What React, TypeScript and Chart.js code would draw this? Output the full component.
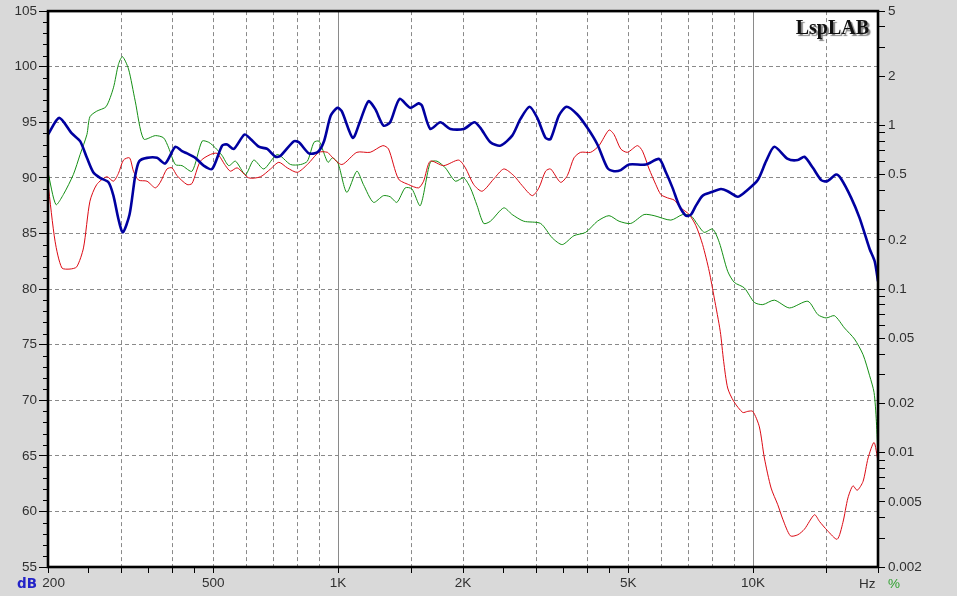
import React, { useEffect, useRef } from 'react';
import { Chart, registerables } from 'chart.js';

Chart.register(...registerables);

// ---------- data (frequency in Hz, level in dB) ----------
const blueFreq = [
  200, 212.8, 228.3, 239, 248.2, 257.1, 267, 279.7, 287.5, 295.6, 302.9, 314.4, 324.5, 331.8,
  346.4, 366.2, 383.4, 405.4, 420.7, 432.6, 453.1, 474.4, 497.1, 525.6, 540.4, 560.7, 594.9,
  615.1, 644.2, 675.1, 706.9, 726.9, 782.7, 804.8, 850.8, 891.6, 925, 960.2, 996.5, 1020.7,
  1085.2, 1130, 1183.5, 1228.4, 1286.4, 1335.1, 1406.3, 1492.3, 1563, 1592.8, 1668, 1763.6,
  1864.5, 2007.5, 2130.5, 2202.8, 2328.5, 2461.9, 2627.6, 2751.4, 2893, 3020, 3162, 3251.5,
  3404.7, 3553.7, 3772.1, 3987.5, 4216, 4456, 4624, 4799, 5025, 5515, 5938, 6165, 6397, 6637,
  6889, 7083, 7283, 7558, 7916, 8368, 8686, 9185, 9618, 10264, 10749, 11255, 12126, 12818,
  13298, 13934, 14594, 15086, 15859, 16306, 17238, 18054, 19094, 19634, 20000,
];
const blueDb = [
  93.9, 95.4, 94.0, 93.3, 91.8, 90.5, 90.0, 89.6, 88.4, 86.3, 85.1, 86.7, 90.2, 91.5,
  91.8, 91.8, 91.3, 92.8, 92.4, 92.2, 91.8, 91.1, 90.8, 92.9, 93.0, 92.6, 93.9,
  93.5, 92.8, 92.6, 91.9, 92.0, 93.3, 93.2, 92.2, 92.3, 93.3, 95.6, 96.3, 96.0,
  93.6, 95.1, 96.9, 96.2, 94.7, 95.0, 97.1, 96.3, 96.7, 96.5, 94.4, 95.0,
  94.4, 94.4, 95.0, 94.5, 93.2, 92.9, 93.8, 95.3, 96.4, 95.4, 93.6, 93.5,
  95.6, 96.4, 95.7, 94.5, 93.0, 90.9, 90.6, 90.7, 91.2, 91.2, 91.7, 90.5, 89.1, 87.5,
  86.6, 86.7, 87.5, 88.4, 88.7, 89.0, 88.8, 88.3, 88.8, 89.8, 91.5, 92.8, 91.7, 91.6,
  91.9, 90.9, 89.8, 89.7, 90.3, 89.9, 88.2, 86.4, 83.6, 82.5, 80.7,
];

const redFreq = [
  200, 208, 216, 226, 234.6, 243.5, 252.4, 262.1, 277.2, 287.5, 295.6, 304, 314.4, 321.4,
  330.5, 346.4, 362.8, 372.9, 387, 398, 409.2, 432.6, 444.8, 465.8, 492.4, 511.1, 535.3,
  550.5, 571.4, 609.3, 650.3, 687.5, 720, 754.5, 797.6, 843.4, 899.6, 942.6, 960, 1021,
  1110, 1195, 1282, 1323, 1398, 1478, 1563, 1607, 1668, 1796, 1952, 2027, 2122, 2224, 2372,
  2508, 2651, 2778, 2937, 3047, 3162, 3252, 3437, 3568, 3702, 3842, 4062, 4253, 4496, 4624,
  4799, 4981, 5266, 5415, 5617, 5830, 5995, 6223, 6455, 6700, 7016, 7283, 7558, 7840, 8062,
  8335, 8494, 8686, 8982, 9443, 9710, 9984, 10356, 10648, 11052, 11469, 11793, 12303, 12818,
  13298, 14060, 14454, 15086, 15947, 16461, 16923, 17401, 17823, 18408, 18929, 19567, 20000,
];
const redDb = [
  89.5, 84.3, 81.9, 81.8, 82.0, 83.7, 87.9, 89.4, 90.1, 89.7, 90.4, 91.6, 91.8, 90.6,
  89.8, 89.7, 89.1, 89.6, 90.8, 90.9, 90.2, 89.4, 89.5, 91.5, 92.1, 92.2, 91.1,
  90.6, 90.9, 90.0, 90.1, 90.8, 91.4, 90.9, 90.5, 91.2, 92.3, 92.3, 92.0, 91.2,
  92.3, 92.3, 92.9, 92.6, 89.9, 89.4, 89.1, 89.7, 91.5, 91.1, 91.6, 90.9, 89.4, 88.8, 89.9,
  90.8, 90.2, 89.3, 88.4, 89.1, 90.6, 90.8, 89.6, 90.2, 91.8, 92.3, 92.3, 92.9, 94.3, 93.9,
  92.6, 92.3, 92.9, 92.4, 90.8, 89.4, 88.5, 88.2, 88.0, 87.3, 86.7, 85.7, 84.0, 81.6, 79.2,
  76.2, 73.5, 71.1, 69.9, 68.9, 69.0, 69.0, 67.6, 64.8, 62.1, 60.6, 59.3, 57.8, 57.9,
  58.4, 59.7, 59.1, 58.3, 57.5, 59.0, 61.2, 62.3, 61.9, 62.7, 64.8, 66.2, 64.5,
];

const greenFreq = [
  200, 209, 217.8, 230.2, 239, 248.2, 252.4, 262.1, 276, 287.5, 295.6, 302.3, 312.6, 324.5,
  339.9, 362.8, 379.8, 390.6, 405.4, 420.7, 444.8, 470.2, 487.8, 506.3, 525.6, 545.3, 566,
  598.2, 626.5, 662.3, 713.6, 768.4, 812.5, 843.4, 874.9, 899.6, 916.7, 945.6, 969.3, 1000,
  1049.5, 1109.7, 1151, 1216.9, 1286.4, 1335.1, 1386, 1451.4, 1506.5, 1577.9, 1668, 1731.4,
  1813.3, 1916.9, 2007.5, 2083.4, 2162.7, 2243.7, 2328.5, 2507.6, 2627.6, 2802.5, 3075.5,
  3282.3, 3469.6, 3701.5, 3950, 4216, 4496, 4754, 5073, 5463, 5775, 6338, 6764, 7083, 7352,
  7626, 7990, 8289, 8686, 9011, 9528, 10072, 10553, 11255, 12235, 13552, 14328, 15003, 15710,
  16606, 17558, 18408, 19094, 19567, 19820, 20000,
];
const greenDb = [
  90.5, 87.6, 88.5, 90.3, 92.1, 93.9, 95.5, 96.0, 96.4, 98.1, 100.2, 100.9, 99.8, 96.9,
  93.5, 93.8, 93.6, 92.7, 91.2, 91.1, 90.6, 93.3, 93.2, 92.7, 92.0, 91.1, 91.5,
  90.3, 91.6, 90.8, 92.1, 91.2, 91.2, 91.5, 93.2, 93.3, 92.6, 91.4, 91.8, 91.3,
  88.7, 90.6, 89.4, 87.8, 88.4, 88.3, 87.8, 89.1, 89.0, 87.5, 91.4, 91.5,
  90.9, 89.7, 90.0, 89.1, 87.5, 85.9, 86.1, 87.3, 86.7, 86.1, 85.9,
  84.6, 84.0, 84.8, 85.1, 86.1, 86.6, 86.1, 85.9, 86.7, 86.6, 86.2, 86.7, 86.6, 85.8,
  85.1, 85.4, 84.2, 81.6, 80.6, 80.1, 78.8, 78.6, 79.0, 78.3, 78.9, 77.7, 77.4, 77.6,
  76.5, 75.5, 74.1, 72.2, 70.7, 68.1, 64.8,
];

// ---------- axes ----------
const xMin = 200;
const xMax = 20000;
const xTickValues = [
  200, 250, 300, 350, 400, 450, 500, 600, 700, 800, 900, 1000, 1500, 2000, 2500, 3000, 3500,
  4000, 4500, 5000, 6000, 7000, 8000, 9000, 10000, 15000, 20000,
];
const xTickLabels: Record<number, string> = {
  200: '   200', 500: '500', 1000: '1K', 2000: '2K', 5000: '5K', 10000: '10K',
};
const xGridDashed = [300, 400, 500, 600, 700, 800, 900, 1500, 2000, 3000, 4000, 5000, 6000, 7000, 8000, 9000, 15000];
const xGridSolid = [1000, 10000];
const xNoTickMark = [600, 700, 800, 900, 6000, 7000, 8000, 9000];

const dbMin = 55;
const dbMax = 105;
const dbTicks = [55, 60, 65, 70, 75, 80, 85, 90, 95, 100, 105];
const dbMinorStep = 1;

const pctMin = 0.002;
const pctMax = 5;
const pctTicks = [
  0.002, 0.003, 0.004, 0.005, 0.006, 0.007, 0.008, 0.009,
  0.01, 0.02, 0.03, 0.04, 0.05, 0.06, 0.07, 0.08, 0.09,
  0.1, 0.2, 0.3, 0.4, 0.5, 0.6, 0.7, 0.8, 0.9,
  1, 2, 3, 4, 5,
];
const pctLabelled = [0.002, 0.005, 0.01, 0.02, 0.05, 0.1, 0.2, 0.5, 1, 2, 5];

const FONT = "'Liberation Sans', Arial, sans-serif";
const TEXT = '#303030';
const GRID = '#8a8a8a';
const CLEAR = 'rgba(0,0,0,0)';
const BG = '#d9d9d9';

const toPoints = (xs: number[], ys: number[]) => xs.map((x, i) => ({ x, y: ys[i] }));

const framePlugin = {
  id: 'lspFrame',
  beforeDraw(chart: any) {
    const { ctx, chartArea: ca, width, height } = chart;
    ctx.save();
    ctx.fillStyle = BG;
    ctx.fillRect(0, 0, width, height);
    ctx.fillStyle = '#ffffff';
    ctx.fillRect(ca.left, ca.top, ca.right - ca.left, ca.bottom - ca.top);
    ctx.restore();
  },
  afterDraw(chart: any) {
    const { ctx, chartArea: ca } = chart;
    const ys = chart.scales.y;
    ctx.save();
    // minor dB ticks
    ctx.strokeStyle = '#000';
    ctx.lineWidth = 1;
    ctx.beginPath();
    for (let v = dbMin + dbMinorStep; v < dbMax; v += dbMinorStep) {
      if (v % 5 === 0) continue;
      const py = Math.round(ys.getPixelForValue(v)) + 0.5;
      ctx.moveTo(ca.left - 5, py);
      ctx.lineTo(ca.left, py);
    }
    ctx.stroke();
    // frame
    ctx.lineWidth = 2.6;
    ctx.strokeStyle = '#000';
    ctx.strokeRect(ca.left, ca.top, ca.right - ca.left, ca.bottom - ca.top);
    // unit labels
    ctx.textBaseline = 'alphabetic';
    ctx.textAlign = 'left';
    ctx.font = "bold 13.5px 'DejaVu Sans', sans-serif";
    ctx.fillStyle = '#2323c8';
    ctx.fillText('dB', 17, ca.bottom + 21);
    ctx.font = `13.5px ${FONT}`;
    ctx.fillStyle = TEXT;
    ctx.fillText('Hz', ca.right - 19, ca.bottom + 21);
    ctx.fillStyle = '#2ea02e';
    ctx.fillText('%', ca.right + 10, ca.bottom + 21);
    // brand
    ctx.font = "bold 20px 'Liberation Serif', 'Times New Roman', serif";
    ctx.textAlign = 'right';
    ctx.shadowColor = 'rgba(90,90,90,0.75)';
    ctx.shadowOffsetX = 2;
    ctx.shadowOffsetY = 2;
    ctx.shadowBlur = 1;
    ctx.fillStyle = '#111';
    ctx.fillText('LspLAB', ca.right - 9, ca.top + 23);
    ctx.restore();
  },
};

export default function App() {
  const ref = useRef<HTMLCanvasElement>(null);

  useEffect(() => {
    document.body.style.margin = '0';
    const canvas = ref.current;
    if (!canvas) return;
    const tickFont = { family: FONT, size: 13.5 };
    const chart = new Chart(canvas, {
      type: 'line',
      data: {
        datasets: [
          {
            label: 'blue',
            data: toPoints(blueFreq, blueDb),
            borderColor: '#0000a0',
            borderWidth: 2.6,
            pointRadius: 0,
            tension: 0.25,
            yAxisID: 'y',
          },
          {
            label: 'red',
            data: toPoints(redFreq, redDb),
            borderColor: '#dc0a14',
            borderWidth: 1,
            pointRadius: 0,
            tension: 0.25,
            yAxisID: 'y',
          },
          {
            label: 'green',
            data: toPoints(greenFreq, greenDb),
            borderColor: '#159015',
            borderWidth: 1,
            pointRadius: 0,
            tension: 0.25,
            yAxisID: 'y',
          },
        ],
      },
      options: {
        responsive: false,
        animation: false,
        devicePixelRatio: 1,
        layout: { padding: { top: 11, left: 0, right: 0, bottom: 0 } },
        plugins: {
          legend: { display: false },
          tooltip: { enabled: false },
          title: { display: false },
        },
        events: [],
        scales: {
          x: {
            type: 'logarithmic',
            position: 'bottom',
            min: xMin,
            max: xMax,
            afterFit: (s: any) => { s.height = 29; },
            afterBuildTicks: (s: any) => { s.ticks = xTickValues.map((v) => ({ value: v })); },
            ticks: {
              autoSkip: false,
              maxRotation: 0,
              minRotation: 0,
              padding: 2,
              color: TEXT,
              font: tickFont,
              callback: (v: any) => xTickLabels[Number(v)] ?? '',
            },
            grid: {
              color: (c: any) => {
                const v = c.tick ? c.tick.value : NaN;
                if (xGridSolid.includes(v)) return GRID;
                if (xGridDashed.includes(v)) return GRID;
                return CLEAR;
              },
              lineWidth: 1,
              drawTicks: true,
              tickLength: 6,
              tickWidth: 1,
              tickColor: (c: any) => {
                const v = c.tick ? c.tick.value : NaN;
                return xNoTickMark.includes(v) ? CLEAR : '#000';
              },
            },
            border: {
              display: false,
              dash: (c: any) => {
                const v = c.tick ? c.tick.value : NaN;
                return xGridSolid.includes(v) ? [] : [4, 3];
              },
            },
          },
          y: {
            type: 'linear',
            position: 'left',
            min: dbMin,
            max: dbMax,
            afterFit: (s: any) => { s.width = 48; },
            afterBuildTicks: (s: any) => { s.ticks = dbTicks.map((v) => ({ value: v })); },
            ticks: {
              autoSkip: false,
              padding: 2,
              color: TEXT,
              font: tickFont,
              callback: (v: any) => String(v),
            },
            grid: {
              color: (c: any) => {
                const v = c.tick ? c.tick.value : NaN;
                return v > dbMin && v < dbMax ? GRID : CLEAR;
              },
              lineWidth: 1,
              drawTicks: true,
              tickLength: 9,
              tickColor: '#000',
            },
            border: { display: false, dash: [4, 3] },
          },
          pct: {
            type: 'logarithmic',
            position: 'right',
            min: pctMin,
            max: pctMax,
            afterFit: (s: any) => { s.width = 79; },
            afterBuildTicks: (s: any) => { s.ticks = pctTicks.map((v) => ({ value: v })); },
            ticks: {
              autoSkip: false,
              padding: 3,
              color: TEXT,
              font: tickFont,
              callback: (v: any) => {
                const n = Number(v);
                return pctLabelled.some((l) => Math.abs(l - n) / l < 1e-6) ? String(n) : '';
              },
            },
            grid: {
              drawOnChartArea: false,
              drawTicks: true,
              tickLength: 7,
              tickColor: '#000',
            },
            border: { display: false },
          },
        },
      } as any,
      plugins: [framePlugin],
    });
    return () => chart.destroy();
  }, []);

  return (
    <div style={{ position: 'absolute', left: 0, top: 0, width: 957, height: 596, background: BG }}>
      <canvas ref={ref} width={957} height={596} style={{ display: 'block', width: 957, height: 596 }} />
    </div>
  );
}
